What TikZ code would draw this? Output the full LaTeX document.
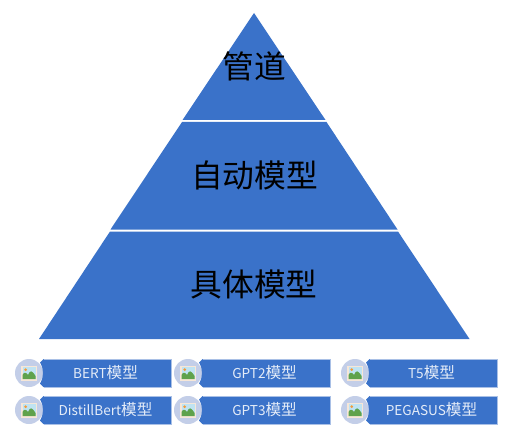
\documentclass[tikz,border=0pt]{standalone}
\usepackage{fontspec}
\setmainfont{Noto Sans CJK SC}
\definecolor{pyrblue}{HTML}{3A72C9}
\definecolor{edgeblue}{HTML}{A9C0E6}
\definecolor{discblue}{HTML}{C3CEE8}
\definecolor{labelwhite}{HTML}{E4ECF8}
\definecolor{framecream}{HTML}{F6E7D8}
\definecolor{skyblue}{HTML}{BFE3F2}
\definecolor{hillgreen}{HTML}{5FA24C}
\definecolor{sunorange}{HTML}{F29A3A}
\tikzset{
  x=0.75pt,y=-0.75pt,
  layer/.style={fill=pyrblue,draw=none},
  layerlabel/.style={text=black,font=\fontsize{23.8pt}{26pt}\selectfont,inner sep=0pt},
  barlabel/.style={text=labelwhite,inner sep=0pt},
  disc/.style={circle,fill=discblue,draw=none,minimum size=21pt,inner sep=0pt},
}
\newcommand{\lat}[1]{{\fontsize{10.2pt}{13pt}\selectfont #1}}
\newcommand{\han}[1]{{\fontsize{11.7pt}{13pt}\selectfont #1}}
\newcommand{\badge}[4]{% name, disc x, disc y, text
  \begin{scope}[shift={(#2,#3)}]
    \node[disc] (#1disc) at (0,0) {};
    \fill[fill=pyrblue] (14.5,-14) -- (142,-14) -- (142,14) -- (14.5,14) -- (11,10.5)
       .. controls (15,4) and (15,-4) .. (11,-10.5) -- cycle;
    \draw[edgeblue,line width=0.5pt] (14.5,-14) -- (142,-14) -- (142,14) -- (14.5,14);
    \fill[fill=framecream] (-8,-7.5) rectangle (8,7.5);
    \fill[fill=skyblue] (-6.5,-6) rectangle (6.5,6);
    \fill[fill=sunorange] (-3.3,-3.3) circle (1.5);
    \fill[fill=hillgreen] (-6.5,6) -- (-6.5,2) .. controls (-5,-1) and (-3,-1) .. (-1,2)
       .. controls (1,-3) and (3,-3) .. (6.5,3) -- (6.5,6) -- cycle;
    \node[barlabel] (#1text) at (76.5,0) {#4};
  \end{scope}}
\begin{document}
\begin{tikzpicture}
\useasboundingbox (0,0) rectangle (513,445);
\fill[white] (0,0) rectangle (513,445);
% pyramid
\coordinate (apex) at (254,13);
\fill[layer] (apex) -- (325.5,120) -- (182.5,120) -- cycle;
\fill[layer] (182,122) -- (326.5,122) -- (397.5,229.5) -- (110.5,229.5) -- cycle;
\fill[layer] (110,231.5) -- (398,231.5) -- (469.5,339) -- (39,339) -- cycle;
\node[layerlabel] (top) at (254.5,66) {管道};
\node[layerlabel] (mid) at (254.5,175) {自动模型};
\node[layerlabel] (low) at (254,284) {具体模型};
% badges
\badge{a}{29}{373}{\lat{BERT}\han{模型}}
\badge{b}{29}{410}{\lat{DistillBert}\han{模型}}
\badge{c}{188}{373}{\lat{GPT2}\han{模型}}
\badge{d}{188}{410}{\lat{GPT3}\han{模型}}
\badge{e}{355}{373}{\lat{T5}\han{模型}}
\badge{f}{355}{410}{\lat{PEGASUS}\han{模型}}
\end{tikzpicture}
\end{document}
